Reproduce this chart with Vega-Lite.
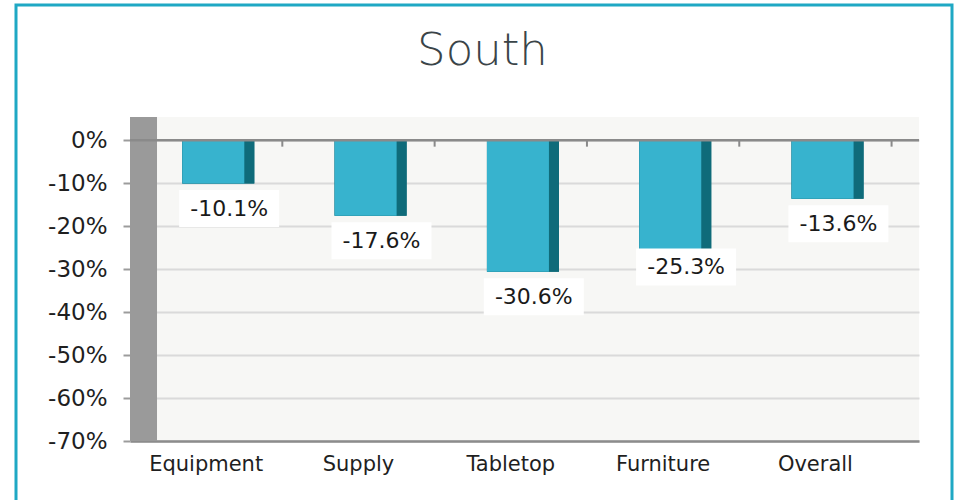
{
  "$schema": "https://vega.github.io/schema/vega-lite/v6.json",
  "width": 789,
  "height": 324,
  "autosize": {"type": "none"},
  "padding": {"left": 130, "top": 117, "right": 37, "bottom": 59},
  "background": "#ffffff",
  "title": {"text": "South", "font": "DejaVu Sans", "fontSize": 45, "fontWeight": 300, "color": "#3a4448", "anchor": "middle", "frame": "group", "dx": -42, "offset": -106, "baseline": "alphabetic"},
  "resolve": {"scale": {"x": "independent", "y": "independent"}},
  "layer": [
    {
      "data": {"values": [{"part": "frame"}]},
      "mark": {"type": "rect", "fill": "#ffffff", "fillOpacity": 0, "stroke": "#1fa8c4", "strokeWidth": 3, "clip": false},
      "encoding": {
        "x": {"datum": 0, "type": "quantitative", "scale": {"domain": [0, 1], "range": [-114, 822], "nice": false, "zero": false}, "axis": null},
        "x2": {"datum": 1},
        "y": {"datum": 0, "type": "quantitative", "scale": {"domain": [0, 1], "range": [-112, 400], "nice": false, "zero": false}, "axis": null},
        "y2": {"datum": 1}
      }
    },
    {
      "data": {"values": [
        {"category": "Equipment", "value": -0.101},
        {"category": "Supply", "value": -0.176},
        {"category": "Tabletop", "value": -0.306},
        {"category": "Furniture", "value": -0.253},
        {"category": "Overall", "value": -0.136}
      ]},
      "layer": [
        {
          "mark": {"type": "bar", "color": "#0f6b7a", "width": 72, "xOffset": 12.15},
          "encoding": {
            "x": {
              "field": "category", "type": "nominal", "sort": null,
              "scale": {"type": "band", "domain": ["Equipment", "Supply", "Tabletop", "Furniture", "Overall"], "paddingInner": 0, "paddingOuter": 0.09, "align": 0},
              "axis": {"title": null, "orient": "bottom", "domainColor": "#8c8c8c", "domainWidth": 2.5, "ticks": false, "grid": false, "labelFontSize": 21, "labelColor": "#1f1f1f", "labelPadding": 12, "labelAngle": 0, "labelFont": "DejaVu Sans"}
            },
            "y": {
              "field": "value", "type": "quantitative",
              "scale": {"domain": [-0.7, 0.054], "nice": false, "zero": false},
              "axis": {"title": null, "values": [0, -0.1, -0.2, -0.3, -0.4, -0.5, -0.6, -0.7], "format": ".0%", "domain": false, "grid": true, "tickColor": "#9c9c9c", "tickSize": 7, "tickWidth": 2, "labelFontSize": 23, "labelColor": "#1f1f1f", "labelPadding": 16, "labelFont": "DejaVu Sans", "gridColor": "#dadada", "gridWidth": 2}
            },
            "y2": {"datum": 0}
          }
        },
        {
          "transform": [{"filter": "datum.category === 'Equipment'"}],
          "mark": {"type": "bar", "color": "#9a9a9a", "width": {"band": 0.1773}, "xOffset": -62.65},
          "encoding": {
            "x": {"field": "category", "type": "nominal", "sort": null},
            "y": {"datum": 0.054, "type": "quantitative"},
            "y2": {"datum": -0.7}
          }
        },
        {
          "mark": {"type": "bar", "color": "#0f6b7a", "width": 72, "xOffset": 12.15},
          "encoding": {
            "x": {"field": "category", "type": "nominal", "sort": null},
            "y": {"field": "value", "type": "quantitative"},
            "y2": {"datum": 0}
          }
        },
        {
          "mark": {"type": "bar", "color": "#37b3ce", "width": 62, "xOffset": 7.15},
          "encoding": {
            "x": {"field": "category", "type": "nominal", "sort": null},
            "y": {"field": "value", "type": "quantitative"},
            "y2": {"datum": 0}
          }
        },
        {
          "transform": [{"filter": "datum.category === 'Equipment'"}],
          "mark": {"type": "rule", "color": "#8a8a8a", "strokeWidth": 2.5},
          "encoding": {"y": {"datum": 0, "type": "quantitative"}}
        },
        {
          "mark": {"type": "rule", "color": "#8a8a8a", "strokeWidth": 2},
          "encoding": {
            "x": {"field": "category", "type": "nominal", "sort": null, "bandPosition": 1},
            "y": {"datum": 0, "type": "quantitative"},
            "y2": {"datum": -0.015}
          }
        },
        {
          "transform": [{"filter": "datum.category !== 'Furniture'"}],
          "mark": {"type": "point", "shape": "M-1,-0.37L1,-0.37L1,0.37L-1,0.37Z", "size": 10000, "filled": true, "color": "#ffffff", "opacity": 1, "strokeWidth": 0, "xOffset": 23, "yOffset": 25},
          "encoding": {
            "x": {"field": "category", "type": "nominal", "sort": null},
            "y": {"field": "value", "type": "quantitative"}
          }
        },
        {
          "transform": [{"filter": "datum.category === 'Furniture'"}],
          "mark": {"type": "point", "shape": "M-1,-0.37L1,-0.37L1,0.37L-1,0.37Z", "size": 10000, "filled": true, "color": "#ffffff", "opacity": 1, "strokeWidth": 0, "xOffset": 23, "yOffset": 18},
          "encoding": {
            "x": {"field": "category", "type": "nominal", "sort": null},
            "y": {"field": "value", "type": "quantitative"}
          }
        },
        {
          "transform": [{"filter": "datum.category !== 'Furniture'"}],
          "mark": {"type": "text", "font": "DejaVu Sans", "fontSize": 22, "color": "#1a1a1a", "baseline": "middle", "align": "center", "dx": 23, "dy": 25},
          "encoding": {
            "x": {"field": "category", "type": "nominal", "sort": null},
            "y": {"field": "value", "type": "quantitative"},
            "text": {"field": "value", "type": "quantitative", "format": ".1%"}
          }
        },
        {
          "transform": [{"filter": "datum.category === 'Furniture'"}],
          "mark": {"type": "text", "font": "DejaVu Sans", "fontSize": 22, "color": "#1a1a1a", "baseline": "middle", "align": "center", "dx": 23, "dy": 18},
          "encoding": {
            "x": {"field": "category", "type": "nominal", "sort": null},
            "y": {"field": "value", "type": "quantitative"},
            "text": {"field": "value", "type": "quantitative", "format": ".1%"}
          }
        }
      ]
    }
  ],
  "config": {
    "view": {"stroke": null, "fill": "#f7f7f5"},
    "font": "DejaVu Sans",
    "locale": {"number": {"decimal": ".", "thousands": ",", "grouping": [3], "currency": ["$", ""], "minus": "-"}}
  }
}
